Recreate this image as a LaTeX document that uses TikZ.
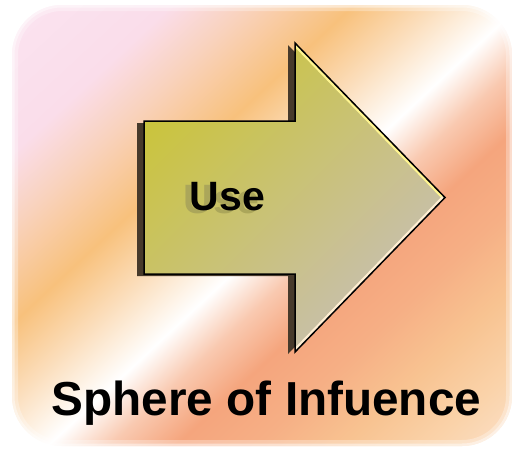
\documentclass[tikz,border=0pt]{standalone}
\usepackage{fontspec}
\setmainfont{Liberation Sans}
\definecolor{bgA}{HTML}{FBE4F1}
\definecolor{bgB}{HTML}{FADDEA}
\definecolor{bgC}{HTML}{F9D2BC}
\definecolor{bgD}{HTML}{F8C17C}
\definecolor{bgE}{HTML}{FBDDBA}
\definecolor{bgF}{HTML}{FFFFFF}
\definecolor{bgG}{HTML}{F9C9B0}
\definecolor{bgH}{HTML}{F5A57D}
\definecolor{bgI}{HTML}{F6AF85}
\definecolor{bgJ}{HTML}{F8C391}
\definecolor{bgK}{HTML}{FAD3AA}
\definecolor{bgL}{HTML}{FCE6D6}
\definecolor{arrA}{HTML}{CAC43E}
\definecolor{arrB}{HTML}{C9C78E}
\definecolor{arrC}{HTML}{C8BFB5}
\definecolor{shadowc}{HTML}{473A2B}
\definecolor{hiA}{HTML}{FFF590}
\definecolor{hiB}{HTML}{FFEED2}
\definecolor{usesh}{HTML}{ABA65A}
\pgfdeclarehorizontalshading{bgshade}{100bp}{color(0bp)=(bgA); color(25bp)=(bgA); color(33.6bp)=(bgB); color(37.5bp)=(bgC); color(42.5bp)=(bgD); color(46.4bp)=(bgE); color(50.6bp)=(bgF); color(53.6bp)=(bgG); color(56.8bp)=(bgH); color(60.7bp)=(bgI); color(65bp)=(bgJ); color(69.3bp)=(bgK); color(75bp)=(bgL); color(100bp)=(bgL)}
\tikzset{
  bigtext/.style={font=\fontsize{47.7}{48}\selectfont\bfseries, text=black, inner sep=0pt},
  usetext/.style={font=\fontsize{41}{41}\selectfont\bfseries, inner sep=0pt},
  outline/.style={draw=black, line width=1.5pt, line join=miter}
}
\begin{document}
\begin{tikzpicture}[x=1pt,y=-1pt]
\useasboundingbox (0,0) rectangle (513,451);
% background
\begin{scope}
  \clip[rounded corners=50pt] (12,5) rectangle (512,446);
  \begin{scope}[transform canvas={rotate=-47}]
    \shade[shading=bgshade] (0,-700) rectangle (700,700);
  \end{scope}
  \draw[white, opacity=0.3, line width=12pt, rounded corners=50pt] (12,5) rectangle (512,446);
  \draw[white, opacity=0.45, line width=5pt, rounded corners=50pt] (12,5) rectangle (512,446);
\end{scope}
% arrow shadow
\fill[shadowc, shift={(-7,2)}] (144,121) -- (295,121) -- (295,43) -- (445,197.5) -- (295,352) -- (295,274) -- (144,274) -- cycle;
% arrow body
\shade[top color=arrA, middle color=arrB, bottom color=arrC, shading angle=45]
  (144,121) -- (295,121) -- (295,43) -- (445,197.5) -- (295,352) -- (295,274) -- (144,274) -- cycle;
\begin{scope}
  \clip (144,121) -- (295,121) -- (295,43) -- (445,197.5) -- (295,352) -- (295,274) -- (144,274) -- cycle;
  \draw[hiA, line width=6pt] (295,43) -- (445,197.5);
  \draw[hiB, line width=6pt] (445,197.5) -- (295,352);
\end{scope}
\draw[outline] (144,121) -- (295,121) -- (295,43) -- (445,197.5) -- (295,352) -- (295,274) -- (144,274) -- cycle;
% texts
\node[usetext, text=black, anchor=base] (use) at (227.5,210)
  {\rlap{\hspace*{-6pt}\raisebox{-3pt}{\textcolor{usesh}{Use}}}Use};
\node[bigtext, anchor=base] (sphere) at (266.5,415) {Sphere of Infuence};
\end{tikzpicture}
\end{document}
